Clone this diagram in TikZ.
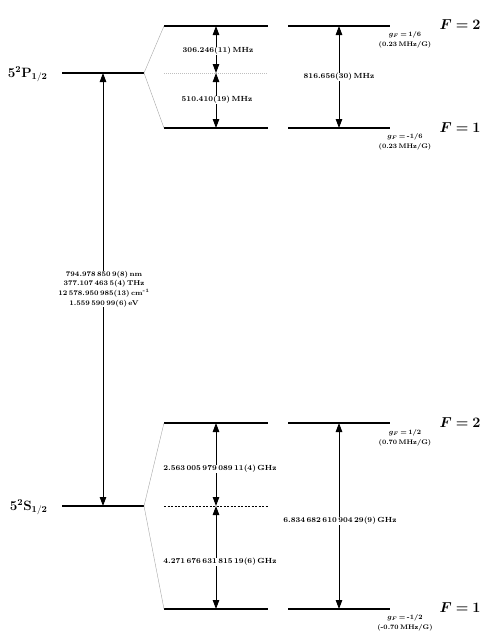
\documentclass[tikz,border=0pt]{standalone}
\usepackage{amsmath,bm}
\usetikzlibrary{arrows.meta}
\newcommand\tightsp{\spaceskip=0.2em plus 0.02em\relax}
\begin{document}
\begin{tikzpicture}[x=1pt,y=-1pt,
  level/.style={line width=1.2pt},
  fan/.style={line width=0.4pt,gray!70},
  darr/.style={line width=0.9pt,{Triangle[width=6.5pt,length=9pt]}-{Triangle[width=6.5pt,length=9pt]}},
  lbl/.style={font=\fontsize{7.4}{8}\selectfont\bfseries,execute at begin node=\tightsp,fill=white,inner sep=0.5pt},
  big/.style={font=\fontsize{13.5}{15}\selectfont\bfseries},
  gf/.style={font=\fontsize{6.6}{9.5}\selectfont\bfseries,execute at begin node=\tightsp,align=center,inner sep=0pt}]
\useasboundingbox (0,0) rectangle (491,640);
% coordinates P
\coordinate (pl) at (62,73); \coordinate (pr) at (144,73);
\coordinate (p2l) at (164,26); \coordinate (p2m) at (268,26);
\coordinate (p1l) at (164,128); \coordinate (p1m) at (268,128);
\coordinate (pcl) at (164,73); \coordinate (pcm) at (268,73);
\coordinate (p2r) at (288,26); \coordinate (p2e) at (390,26);
\coordinate (p1r) at (288,128); \coordinate (p1e) at (390,128);
\coordinate (pa2) at (216,26); \coordinate (pac) at (216,73); \coordinate (pa1) at (216,128);
\coordinate (pb2) at (339,26); \coordinate (pb1) at (339,128);
% coordinates S
\coordinate (sl) at (62,506); \coordinate (sr) at (144,506);
\coordinate (s2l) at (164,423); \coordinate (s2m) at (268,423);
\coordinate (s1l) at (164,609); \coordinate (s1m) at (268,609);
\coordinate (scl) at (164,506); \coordinate (scm) at (268,506);
\coordinate (s2r) at (288,423); \coordinate (s2e) at (390,423);
\coordinate (s1r) at (288,609); \coordinate (s1e) at (390,609);
\coordinate (sa2) at (216,423); \coordinate (sac) at (216,506); \coordinate (sa1) at (216,609);
\coordinate (sb2) at (339,423); \coordinate (sb1) at (339,609);
\coordinate (mt) at (103,73); \coordinate (mb) at (103,506);
% levels
\draw[level] (pl) -- (pr);
\draw[level] (p2l) -- (p2m); \draw[level] (p1l) -- (p1m);
\draw[level] (p2r) -- (p2e); \draw[level] (p1r) -- (p1e);
\draw[fan] (pr) -- (p2l); \draw[fan] (pr) -- (p1l);
\draw[line width=0.4pt,gray!50,dash pattern=on 1pt off 1pt] (pcl) -- (pcm);
\draw[level] (sl) -- (sr);
\draw[level] (s2l) -- (s2m); \draw[level] (s1l) -- (s1m);
\draw[level] (s2r) -- (s2e); \draw[level] (s1r) -- (s1e);
\draw[fan] (sr) -- (s2l); \draw[fan] (sr) -- (s1l);
\draw[line width=0.6pt,dash pattern=on 2pt off 1.5pt] (scl) -- (scm);
% arrows
\draw[darr] (pa2) -- (pac); \draw[darr] (pac) -- (pa1);
\draw[darr] (pb2) -- (pb1);
\draw[darr] (sa2) -- (sac); \draw[darr] (sac) -- (sa1);
\draw[darr] (sb2) -- (sb1);
\draw[darr] (mt) -- (mb);
% labels
\node[lbl] (l1) at (218,51) {306.246(11) MHz};
\node[lbl] (l2) at (217,100) {510.410(19) MHz};
\node[lbl] (l3) at (339,77) {816.656(30) MHz};
\node[lbl] (l4) at (220,469) {2.563 005 979 089 11(4) GHz};
\node[lbl] (l5) at (220,562) {4.271 676 631 815 19(6) GHz};
\node[lbl] (l6) at (340,521) {6.834 682 610 904 29(9) GHz};
\node[lbl,align=center,font=\fontsize{7}{9.6}\selectfont\bfseries] (l7) at (104,289) {794.978 850 9(8) nm\\377.107 463 5(4) THz\\12 578.950 985(13) cm\textsuperscript{-1}\\1.559 590 99(6) eV};
\node[big,anchor=east] (pn) at (51,74) {5$^{\mathbf 2}$P$_{\mathbf{1/2}}$};
\node[big,anchor=east] (sn) at (51,507) {5$^{\mathbf 2}$S$_{\mathbf{1/2}}$};
\node[big] (f2p) at (460,25) {$\bm{F=2}$};
\node[big] (f1p) at (460,128) {$\bm{F=1}$};
\node[big] (f2s) at (460,423) {$\bm{F=2}$};
\node[big] (f1s) at (460,608) {$\bm{F=1}$};
\node[gf] (g2p) at (405,40) {$\bm{g_F}$ = 1/6\\(0.23 MHz/G)};
\node[gf] (g1p) at (405,142) {$\bm{g_F}$ = -1/6\\(0.23 MHz/G)};
\node[gf] (g2s) at (405,438) {$\bm{g_F}$ = 1/2\\(0.70 MHz/G)};
\node[gf] (g1s) at (405,623) {$\bm{g_F}$ = -1/2\\(-0.70 MHz/G)};
\end{tikzpicture}
\end{document}
